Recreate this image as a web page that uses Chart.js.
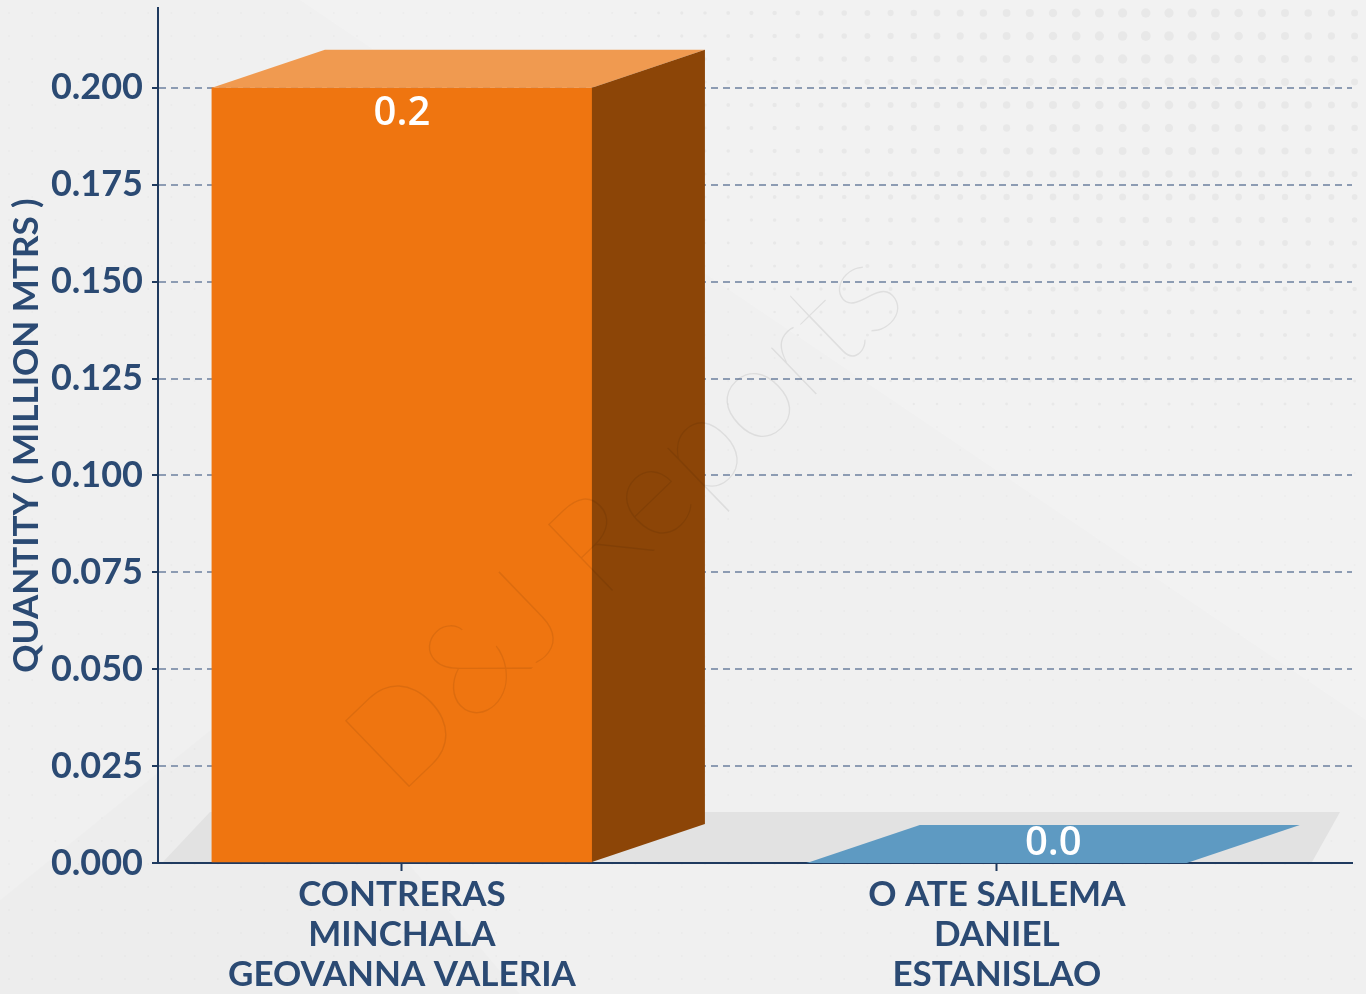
<!DOCTYPE html>
<html>
<head>
<meta charset="utf-8">
<script src="https://cdn.jsdelivr.net/npm/chart.js@4/dist/chart.umd.min.js"></script>
<style>
  html, body { margin: 0; padding: 0; background: #f1f1f1; }
  #wrap { width: 1366px; height: 994px; }
</style>
</head>
<body>
<div id="wrap"><canvas id="qtyChart" width="1366" height="994"></canvas></div>
<script>
// Chart data
const categories = [
  ["CONTRERAS", "MINCHALA", "GEOVANNA VALERIA"],
  ["O ATE SAILEMA", "DANIEL", "ESTANISLAO"]
];
const quantities = [0.2, 0.0];
const yTicks = [0, 0.025, 0.05, 0.075, 0.1, 0.125, 0.15, 0.175, 0.2];

// Colours per bar: front, top, side
const frontColors = ["#ef7510", "#3f7aa3"];
const topColors = ["#f09a50", "#5e9ac2"];
const sideColors = ["#8c4507", "#2f5f80"];

const navy = "#2b4a73";
const depthX = 113;
const depthY = 38;

// Background: base colour, soft shapes, dot pattern and the floor
const backgroundPlugin = {
  id: "background",
  beforeDraw(chart) {
    const c = chart.ctx;
    const { width, height, chartArea } = chart;
    c.save();
    c.fillStyle = "#f0f0f0";
    c.fillRect(0, 0, width, height);

    c.fillStyle = "rgba(255,255,255,0.16)";
    c.beginPath();
    c.moveTo(300, 0); c.lineTo(width, 0); c.lineTo(width, 720); c.closePath();
    c.fill();

    c.fillStyle = "rgba(0,0,0,0.012)";
    c.beginPath();
    c.moveTo(0, 900); c.lineTo(260, 690); c.lineTo(520, 994); c.lineTo(0, 994); c.closePath();
    c.fill();

    // dots
    for (let y = 13; y < height; y += 23) {
      for (let x = 9; x < width; x += 23.2) {
        const d = Math.hypot(x - 1150, (y - 40) * 1.3);
        const r = Math.max(1, 5 - d / 140);
        c.fillStyle = "rgba(0,0,0," + (r > 1.2 ? 0.04 : 0.025) + ")";
        c.beginPath();
        c.arc(x, y, r, 0, Math.PI * 2);
        c.fill();
      }
    }

    // floor
    const b = chartArea.bottom - 1;
    c.fillStyle = "#e2e2e2";
    c.beginPath();
    c.moveTo(chartArea.left + 5, b);
    c.lineTo(chartArea.left + 52, b - 50);
    c.lineTo(chartArea.right - 12, b - 50);
    c.lineTo(chartArea.right - 40, b);
    c.closePath();
    c.fill();
    c.restore();
  }
};

// Top and side faces for the 3D look, and the value labels
const bar3dPlugin = {
  id: "bar3d",
  afterDatasetsDraw(chart) {
    const c = chart.ctx;
    const meta = chart.getDatasetMeta(0);
    c.save();
    meta.data.forEach((bar, i) => {
      const l = bar.x - bar.width / 2;
      const r = bar.x + bar.width / 2;
      const t = bar.y;
      const b = bar.base;
      // top
      c.fillStyle = topColors[i];
      c.beginPath();
      c.moveTo(l, t); c.lineTo(r, t);
      c.lineTo(r + depthX, t - depthY); c.lineTo(l + depthX, t - depthY);
      c.closePath();
      c.fill();
      // side
      if (b - t > 1) {
        c.fillStyle = sideColors[i];
        c.beginPath();
        c.moveTo(r, t); c.lineTo(r + depthX, t - depthY);
        c.lineTo(r + depthX, b - depthY); c.lineTo(r, b);
        c.closePath();
        c.fill();
      }
    });

    // value labels
    c.fillStyle = "#ffffff";
    c.font = "600 40px 'Open Sans'";
    c.textAlign = "center";
    c.textBaseline = "middle";
    meta.data.forEach((bar, i) => {
      const txt = quantities[i].toFixed(1);
      if (bar.base - bar.y > 40) {
        c.fillText(txt, bar.x, bar.y + 26);
      } else {
        c.fillText(txt, bar.x + depthX / 2, bar.y - depthY / 2);
      }
    });
    c.restore();
  },
  afterDraw(chart) {
    // watermark
    const c = chart.ctx;
    c.save();
    c.translate(398, 798);
    c.rotate(-44 * Math.PI / 180);
    c.font = "100 132px Lato";
    c.fillStyle = "rgba(0,0,0,0.08)";
    c.fillText("D&J Reports", 0, 0);
    c.restore();
  }
};

const ctx = document.getElementById("qtyChart").getContext("2d");
const qtyChart = new Chart(ctx, {
  type: "bar",
  data: {
    datasets: [{
      data: quantities.map((v, i) => ({ x: i, y: v })),
      backgroundColor: frontColors,
      borderWidth: 0,
      barThickness: 380
    }]
  },
  options: {
    responsive: false,
    animation: false,
    layout: { padding: { top: 8, right: 14, left: 0, bottom: 0 } },
    plugins: {
      legend: { display: false },
      tooltip: { enabled: false }
    },
    scales: {
      x: {
        type: "linear",
        offset: false,
        min: -0.41,
        max: 1.597,
        afterBuildTicks(scale) {
          scale.ticks = categories.map((c, i) => ({ value: i }));
        },
        afterFit(scale) {
          scale.height = 131;
          scale.paddingLeft = 0;
          scale.paddingRight = 0;
        },
        ticks: {
          autoSkip: false,
          maxRotation: 0,
          padding: 4,
          color: navy,
          font: { family: "Lato", weight: "bold", size: 35, lineHeight: 1.143 },
          callback: (value) => categories[value]
        },
        grid: {
          offset: false,
          drawOnChartArea: false,
          drawTicks: true,
          tickLength: 8,
          tickWidth: 2,
          tickColor: "#1f3a5f"
        },
        border: { display: true, color: "#1f3a5f", width: 2 }
      },
      y: {
        min: 0,
        max: 0.2206,
        afterBuildTicks(scale) {
          scale.ticks = yTicks.map(v => ({ value: v }));
        },
        afterFit(scale) {
          scale.width = 158;
          scale.paddingTop = 0;
          scale.paddingBottom = 0;
        },
        ticks: {
          padding: 9,
          color: navy,
          font: { family: "Lato", weight: "bold", size: 36 },
          callback: (value) => value.toFixed(3)
        },
        grid: {
          color: "#8d9cb3",
          lineWidth: 2,
          tickLength: 6,
          tickColor: "#1f3a5f",
          tickWidth: 2
        },
        border: { display: true, color: "#1f3a5f", width: 2, dash: [7, 5] },
        title: {
          display: true,
          text: "QUANTITY ( MILLION MTRS )",
          color: navy,
          font: { family: "Lato", weight: "bold", size: 35 },
          padding: { top: 6, bottom: 0 }
        }
      }
    }
  },
  plugins: [backgroundPlugin, bar3dPlugin]
});
</script>
</body>
</html>
